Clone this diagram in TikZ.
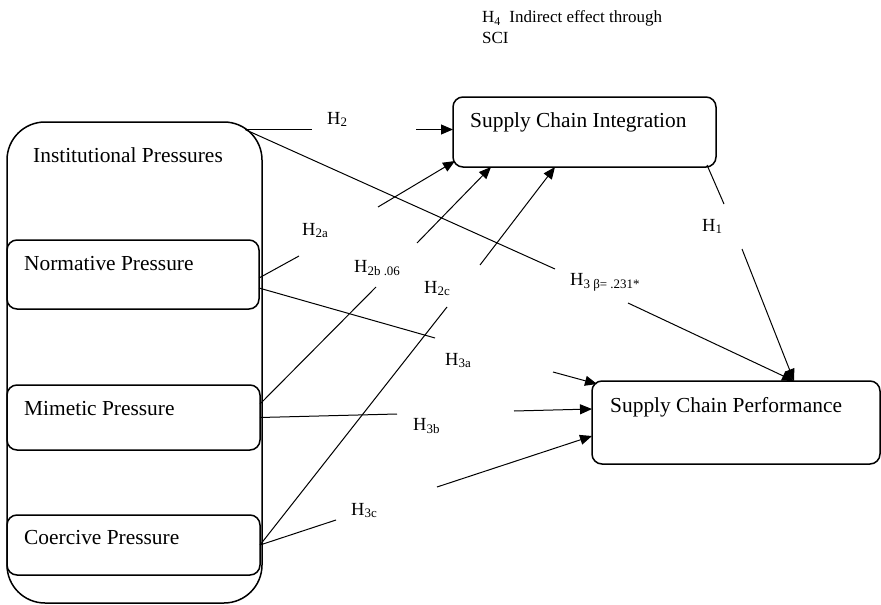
\documentclass[tikz,border=0pt]{standalone}
\usepackage{fontspec}
\setmainfont{Liberation Serif}
\usetikzlibrary{arrows.meta}

\tikzset{
	box/.style={draw, line width=1.5pt, rounded corners=10pt, inner sep=0pt, outer sep=0pt},
	boxtext/.style={anchor=base west, inner sep=0pt, font=\fontsize{21.4}{24}\selectfont},
	hyp/.style={anchor=base west, inner sep=0pt, font=\fontsize{18.5}{21}\selectfont},
	link/.style={line width=1pt},
	tip/.style={link, -{Triangle[length=12pt,width=10pt]}}
}

\begin{document}
\begin{tikzpicture}[x=1pt,y=-1pt]
	\useasboundingbox (0,0) rectangle (881,605);

	%boxes
	\node[box, rounded corners=38pt, minimum width=255pt, minimum height=481pt] (inst) at (134.5,362.5) {};
	\node[box, minimum width=252pt, minimum height=69pt] (norm) at (133,274.5) {};
	\node[box, minimum width=253pt, minimum height=65pt] (mim) at (133.5,417.5) {};
	\node[box, minimum width=253pt, minimum height=60pt] (coer) at (133.5,545) {};
	\node[box, minimum width=263pt, minimum height=70pt] (sci) at (584.5,132) {};
	\node[box, minimum width=288pt, minimum height=83pt] (scp) at (736,422.5) {};

	%box texts
	\node[boxtext] (insttext) at (33,162) {Institutional Pressures};
	\node[boxtext] (normtext) at (24,270) {Normative Pressure};
	\node[boxtext] (mimtext) at (24,415) {Mimetic Pressure};
	\node[boxtext] (coertext) at (24,544) {Coercive Pressure};
	\node[boxtext] (scitext) at (470,127) {Supply Chain Integration};
	\node[boxtext] (scptext) at (610,412) {Supply Chain Performance};

	%note on top
	\node[anchor=base west, inner sep=0pt, font=\fontsize{17}{20}\selectfont] (note1) at (482,23) {H\textsubscript{4}\ \ Indirect effect through};
	\node[anchor=base west, inner sep=0pt, font=\fontsize{17}{20}\selectfont] (note2) at (482,43) {SCI};

	%hypothesis labels
	\node[hyp] (h2) at (327,124) {H\textsubscript{2}};
	\node[hyp] (h2a) at (302,235) {H\textsubscript{2a}};
	\node[hyp] (h2b) at (354,272) {H\textsubscript{2b .06}};
	\node[hyp] (h2c) at (424,293) {H\textsubscript{2c}};
	\node[hyp] (h1) at (702,231) {H\textsubscript{1}};
	\node[hyp] (h3) at (570,285) {H\textsubscript{3 β= .231*}};
	\node[hyp] (h3a) at (445,365) {H\textsubscript{3a}};
	\node[hyp] (h3b) at (413,430) {H\textsubscript{3b}};
	\node[hyp] (h3c) at (351,515) {H\textsubscript{3c}};

	%define coordinates for line gaps
	\coordinate (c0) at (245,129.5);
	\coordinate (h20) at (312,129.5); \coordinate (h21) at (416,129.5);
	\coordinate (h30) at (555,269); \coordinate (h31) at (628,303);
	\coordinate (h10) at (724,204); \coordinate (h11) at (742,249);
	\coordinate (h2a0) at (299,256); \coordinate (h2a1) at (378,207);
	\coordinate (h2b0) at (376,287); \coordinate (h2b1) at (417,243);
	\coordinate (h2c0) at (447,307); \coordinate (h2c1) at (480,265);
	\coordinate (h3a0) at (435,338); \coordinate (h3a1) at (553,372);
	\coordinate (h3b0) at (397,414); \coordinate (h3b1) at (514,411);
	\coordinate (h3c0) at (336,520); \coordinate (h3c1) at (437,487);
	\coordinate (p0) at ([xshift=58pt]scp.north);

	%paths to supply chain integration
	\draw[link] (c0) -- (h20);
	\draw[tip] (h21) -- (h21 -| sci.west);
	\draw[link] ([yshift=-3.5pt]norm.east) -- (h2a0);
	\draw[tip] (h2a1) -- ([xshift=2pt,yshift=6pt]sci.south west);
	\draw[link] ([yshift=13.5pt]mim.east) -- (h2b0);
	\draw[tip] (h2b1) -- ([xshift=-93.5pt]sci.south);
	\draw[link] (coer.east) -- (h2c0);
	\draw[tip] (h2c1) -- ([xshift=-29.5pt]sci.south);

	%paths to supply chain performance
	\draw[link] (c0) -- (h30);
	\draw[tip] (h31) -- (p0);
	\draw[link] ([xshift=-9pt,yshift=2pt]sci.south east) -- (h10);
	\draw[tip] (h11) -- (p0);
	\draw[link] ([yshift=-13.5pt]norm.east) -- (h3a0);
	\draw[tip] (h3a1) -- ([xshift=5pt,yshift=-3pt]scp.north west);
	\draw[link] (mim.east) -- (h3b0);
	\draw[tip] (h3b1) -- ([yshift=13.5pt]scp.west);
	\draw[link] (coer.east) -- (h3c0);
	\draw[tip] (h3c1) -- ([yshift=-13.5pt]scp.west);

\end{tikzpicture}
\end{document}
